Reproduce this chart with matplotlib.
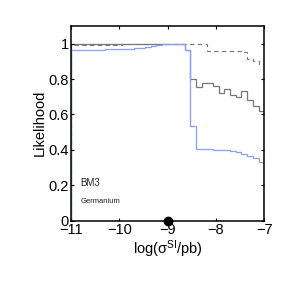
import numpy as np
import matplotlib
matplotlib.use("Agg")
from matplotlib import pyplot as plt

plt.rcParams['font.family'] = ['Liberation Sans', 'DejaVu Sans']
plt.rcParams['mathtext.fontset'] = 'custom'
plt.rcParams['mathtext.rm'] = 'Liberation Sans'
plt.rcParams['mathtext.it'] = 'Liberation Sans:italic'
plt.rcParams['mathtext.default'] = 'regular'

# 34 bins between log(sigma) = -11 and -7
edges = np.linspace(-11, -7, 35)

blue = [0.963, 0.963, 0.964, 0.964, 0.965, 0.966, 0.967, 0.968, 0.969, 0.970,
        0.972, 0.974, 0.977, 0.981, 0.986, 0.991, 0.996, 0.999, 1.0, 1.0,
        0.962, 0.537, 0.405, 0.404, 0.403, 0.402, 0.400, 0.397, 0.394, 0.388,
        0.378, 0.368, 0.355, 0.330]

grey = [0.998, 0.998, 0.998, 0.998, 0.998, 0.998, 0.998, 0.998, 0.999, 0.999,
        0.999, 0.999, 1.0, 1.0, 1.0, 1.0, 1.0, 1.0, 1.0, 1.0,
        0.962, 0.798, 0.754, 0.775, 0.779, 0.760, 0.722, 0.741, 0.707, 0.697,
        0.730, 0.679, 0.650, 0.618]

dashed = [0.990, 0.990, 0.991, 0.991, 0.992, 0.992, 0.993, 0.993, 0.994, 0.995,
          0.995, 0.996, 0.997, 0.998, 0.999, 1.0, 1.0, 1.0, 1.0, 1.0,
          1.0, 1.0, 1.0, 1.0, 0.960, 0.959, 0.958, 0.958, 0.957, 0.956,
          0.955, 0.915, 0.900, 0.887]

best_x = -9
best_y = 0

fig = plt.figure(figsize=(2.91, 2.91), dpi=100)
ax = fig.add_axes([0.244, 0.2416, 0.664, 0.6694])

ax.stairs(dashed, edges, color='#777777', lw=0.8, ls=(0, (4, 3)))
ax.stairs(grey, edges, color='#777777', lw=0.9)
ax.stairs(blue, edges, color='#8c9cff', lw=0.9)
ax.plot([best_x], [best_y], 'o', color='black', ms=6, clip_on=False, zorder=5)

ax.set_xlim(-11, -7)
ax.set_ylim(0, 1.1)
ax.set_xticks([-11, -10, -9, -8, -7])
ax.set_yticks([0, 0.2, 0.4, 0.6, 0.8, 1])
ax.set_yticklabels(['0', '0.2', '0.4', '0.6', '0.8', '1'])
ax.tick_params(direction='in', top=True, right=True, length=2.5, width=0.8,
               labelsize=10.5, pad=1.5)
for s in ax.spines.values():
    s.set_linewidth(1.1)

ax.set_ylabel('Likelihood', fontsize=10.5, labelpad=1)
ax.set_xlabel(r'log($\sigma^{SI}$/pb)', fontsize=10.5, labelpad=1)

ax.text(-10.81, 0.212, 'BM3', fontsize=7, va='center', color='#222222')
ax.text(-10.81, 0.11, 'Germanium', fontsize=5.5, va='center', color='#222222')

plt.savefig('out.png', dpi=100)
